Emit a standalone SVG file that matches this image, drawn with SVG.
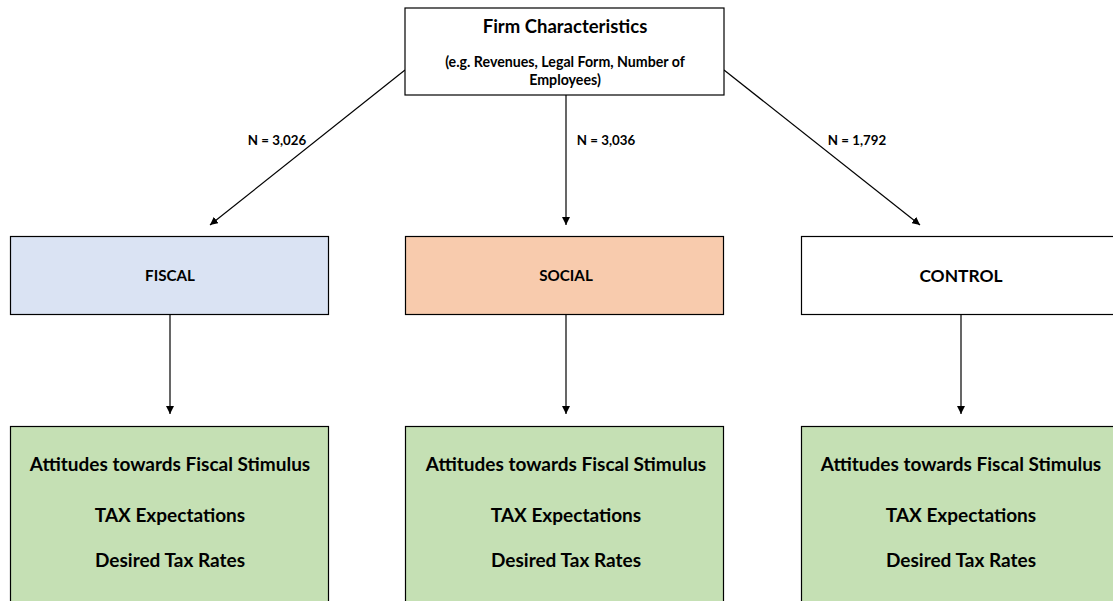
<svg xmlns="http://www.w3.org/2000/svg" width="1113" height="601" viewBox="0 0 1113 601">
<defs>
<marker id="ah" viewBox="0 0 10 10" refX="10" refY="5" markerWidth="8" markerHeight="8" markerUnits="userSpaceOnUse" orient="auto">
<path d="M0,0 L10,5 L0,10 z" fill="#000"/>
</marker>
<style>
.box{stroke:#000;stroke-width:1.2}
.t{font-family:Lato,"Open Sans",sans-serif;font-weight:bold;fill:#000;text-anchor:middle}
.o{font-size:19px}
.c{stroke:#000;stroke-width:1.2;fill:none;marker-end:url(#ah)}
</style>
</defs>
<rect width="1113" height="601" fill="#fff"/>
<g id="connectors">
<line class="c" x1="405" y1="70" x2="210" y2="225"/>
<line class="c" x1="566" y1="95" x2="566" y2="225"/>
<line class="c" x1="724" y1="70" x2="920" y2="225"/>
<line class="c" x1="170" y1="315" x2="170" y2="414"/>
<line class="c" x1="566" y1="315" x2="566" y2="414"/>
<line class="c" x1="961" y1="315" x2="961" y2="414"/>
<text class="t" x="277" y="145" font-size="13.3">N = 3,026</text>
<text class="t" x="606" y="145" font-size="13.3">N = 3,036</text>
<text class="t" x="857" y="145" font-size="13.3">N = 1,792</text>
</g>
<g id="firm">
<rect class="box" x="405" y="8" width="319" height="87" fill="#fff"/>
<text class="t" x="565" y="33" font-size="18.5">Firm Characteristics</text>
<text class="t" x="565" y="67" font-size="14.2">(e.g. Revenues, Legal Form, Number of</text>
<text class="t" x="565" y="85" font-size="14.2">Employees)</text>
</g>
<g id="fiscal">
<rect class="box" x="10.5" y="236.5" width="318" height="78" fill="#DAE3F3"/>
<text class="t" x="170" y="281" font-size="15.2">FISCAL</text>
</g>
<g id="social">
<rect class="box" x="405.5" y="236.5" width="318" height="78" fill="#F8CBAD"/>
<text class="t" x="566" y="281" font-size="15.2">SOCIAL</text>
</g>
<g id="control">
<rect class="box" x="801.5" y="236.5" width="318" height="78" fill="#fff"/>
<text class="t" x="961" y="282" font-size="17.4">CONTROL</text>
</g>
<g id="out-fiscal">
<rect class="box" x="10.5" y="426.5" width="318" height="190" fill="#C5E0B4"/>
<text class="t o" x="170" y="471">Attitudes towards Fiscal Stimulus</text>
<text class="t o" x="170" y="522">TAX Expectations</text>
<text class="t o" x="170" y="567">Desired Tax Rates</text>
</g>
<g id="out-social">
<rect class="box" x="405.5" y="426.5" width="318" height="190" fill="#C5E0B4"/>
<text class="t o" x="566" y="471">Attitudes towards Fiscal Stimulus</text>
<text class="t o" x="566" y="522">TAX Expectations</text>
<text class="t o" x="566" y="567">Desired Tax Rates</text>
</g>
<g id="out-control">
<rect class="box" x="801.5" y="426.5" width="318" height="190" fill="#C5E0B4"/>
<text class="t o" x="961" y="471">Attitudes towards Fiscal Stimulus</text>
<text class="t o" x="961" y="522">TAX Expectations</text>
<text class="t o" x="961" y="567">Desired Tax Rates</text>
</g>
</svg>
